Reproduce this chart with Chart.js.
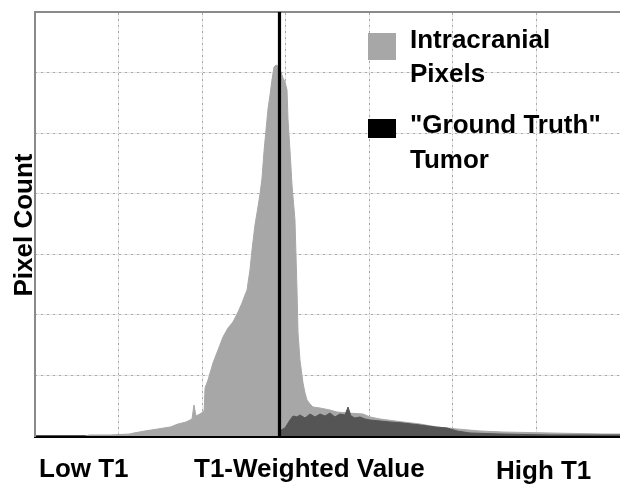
<!DOCTYPE html>
<html>
<head>
<meta charset="utf-8">
<script src="https://cdn.jsdelivr.net/npm/chart.js@4"></script>
<style>
  html, body { margin: 0; padding: 0; background: #ffffff; }
  #wrap { width: 620px; height: 485px; }
</style>
</head>
<body>
<div id="wrap"><canvas id="c" width="620" height="485"></canvas></div>
<script>
// ---- data (T1-weighted value in arbitrary units, pixel count in arbitrary units) ----
const intracranialT1 = [0,59,65,89,112,117,130,145,160,169,178.5,185.6,187.9,190.3,195,198.6,200,201,204.5,210.4,216.3,222.2,228.1,234,240,244.7,248.2,250.6,254.1,256.5,260,262.4,266,268.3,270.7,275.4,277.8,280.1,282.5,284.9,287.2,290.8,293.1,295.5,297.9,299.1,301.4,303.8,307.3,309.7,310.9,313.2,316.8,319.2,321.5,325.1,328.6,336.9,348.7,357,368.8,387.7,396,407.8,435,455.1,475.2,498.8,526,553.2,608.7,671.4,691.5];
const intracranialCount = [0,0,1.7,1.7,3.3,5.0,8.3,11.6,14.9,19.8,23.1,28.1,51.2,33.0,36.3,39.6,42.9,79.2,92.5,120.5,142,163.5,178.3,188.2,204.7,219.6,232.8,241,274.1,307.1,348.4,368.2,400,425,470,540,563,587.8,609.2,612.5,610.9,601,591.1,584.5,571.2,521.7,472.2,414.4,356.6,241,170.1,125.5,87.5,71,59.4,52.8,47.9,46.2,42.9,39.6,38,36.3,31.4,28.1,23.1,19.8,14.9,11.6,8.3,6.6,5.0,3.3,3.3];
const tumorT1 = [289,290.8,295.5,301.4,305.0,309.7,313.2,319.2,325.1,331.0,336.9,342.8,348.7,354.6,360.5,366.4,370.0,373.5,378.2,384.2,390.1,396.0,407.8,419.6,435.0,455.1,472.8,487.0,498.8,514.2,549.6,608.7,691.5];
const tumorCount = [0,9.9,13.2,26.4,33.0,31.4,34.7,29.7,36.3,31.4,36.3,33.0,38.0,31.4,36.3,34.7,47.9,33.0,29.7,31.4,28.1,26.4,24.8,23.1,21.5,18.2,14.9,13.2,8.3,5.0,3.3,1.7,1.7];
const markerT1 = 289;
const xRange = [0, 691.5];
const yRange = [0, 700];
const xStep = 100;
const yStep = 100;
const legendLabels = [["Intracranial", "Pixels"], ["\"Ground Truth\"", "Tumor"]];
const axisLabels = { low: "Low T1", title: "T1-Weighted Value", high: "High T1", y: "Pixel Count" };

const toXY = (xs, ys) => xs.map((x, i) => ({ x: x, y: ys[i] }));

const LIGHT = '#a7a7a7';
const DARK = '#555555';
const FONT = 'bold 26px "Liberation Sans", Arial, sans-serif';

const textPlugin = {
  id: 'textPlugin',
  afterDraw(chart) {
    const ctx = chart.ctx;
    const a = chart.chartArea;
    ctx.save();
    ctx.fillStyle = '#000';
    ctx.font = FONT;
    ctx.textBaseline = 'alphabetic';
    ctx.textAlign = 'left';
    // legend
    const lx = a.left + 333;
    ctx.fillStyle = LIGHT;
    ctx.fillRect(lx, a.top + 21, 28, 27);
    ctx.fillStyle = '#000';
    ctx.fillRect(lx, a.top + 107, 28, 19);
    ctx.fillText(legendLabels[0][0], lx + 42, a.top + 36);
    ctx.fillText(legendLabels[0][1], lx + 42, a.top + 70);
    ctx.fillText(legendLabels[1][0], lx + 42, a.top + 121);
    ctx.fillText(legendLabels[1][1], lx + 42, a.top + 156);
    // bottom labels
    const by = a.bottom + 41;
    ctx.fillText(axisLabels.low, a.left + 4, by);
    ctx.fillText(axisLabels.title, a.left + 159, by);
    ctx.fillText(axisLabels.high, a.left + 461, by + 2);
    // y title
    ctx.translate(32, (a.top + a.bottom) / 2 + 1);
    ctx.rotate(-Math.PI / 2);
    ctx.textAlign = 'center';
    ctx.fillText(axisLabels.y, 0, 0);
    ctx.restore();
  }
};

const hideEdgesX = (col) => (c) => (c.tick && (c.tick.value <= 0 || c.tick.value > 690)) ? 'rgba(0,0,0,0)' : col;
const hideEdgesY = (col) => (c) => (c.tick && (c.tick.value <= 0 || c.tick.value >= 700)) ? 'rgba(0,0,0,0)' : col;

new Chart(document.getElementById('c'), {
  type: 'line',
  data: {
    datasets: [
      {
        label: 'Marker',
        data: [{ x: markerT1, y: yRange[0] }, { x: markerT1, y: yRange[1] }],
        borderColor: '#000',
        borderWidth: 3.2,
        pointRadius: 0,
        fill: false,
        order: 0
      },
      {
        label: 'Ground Truth Tumor',
        data: toXY(tumorT1, tumorCount),
        borderColor: DARK,
        backgroundColor: DARK,
        borderWidth: 1,
        pointRadius: 0,
        fill: 'origin',
        tension: 0,
        order: 1
      },
      {
        label: 'Intracranial Pixels',
        data: toXY(intracranialT1, intracranialCount),
        borderColor: LIGHT,
        backgroundColor: LIGHT,
        borderWidth: 1,
        pointRadius: 0,
        fill: 'origin',
        tension: 0,
        order: 2
      }
    ]
  },
  options: {
    responsive: false,
    animation: false,
    devicePixelRatio: 1,
    layout: { padding: { left: 35, top: 12, right: 0, bottom: 49 } },
    plugins: { legend: { display: false }, tooltip: { enabled: false } },
    scales: {
      x: {
        type: 'linear', position: 'bottom',
        min: xRange[0], max: xRange[1],
        ticks: { display: false, stepSize: xStep },
        grid: { drawTicks: false, color: hideEdgesX('#e6e6e6'), lineWidth: 1 },
        border: { display: true, color: '#000', width: 3 }
      },
      x2: {
        type: 'linear', position: 'top',
        min: xRange[0], max: xRange[1],
        ticks: { display: false, stepSize: xStep },
        grid: { drawTicks: false, color: hideEdgesX('#a9a9a9'), lineWidth: 1 },
        border: { display: true, color: '#8a8a8a', width: 2, dash: [2, 4] }
      },
      y: {
        type: 'linear', position: 'left',
        min: yRange[0], max: yRange[1],
        ticks: { display: false, stepSize: yStep },
        grid: { drawTicks: false, color: hideEdgesY('#e6e6e6'), lineWidth: 1 },
        border: { display: true, color: '#8a8a8a', width: 2 }
      },
      y2: {
        type: 'linear', position: 'left',
        min: yRange[0], max: yRange[1],
        ticks: { display: false, stepSize: yStep },
        grid: { drawTicks: false, color: hideEdgesY('#a9a9a9'), lineWidth: 1 },
        border: { display: false, dash: [2, 4] }
      }
    }
  },
  plugins: [textPlugin]
});
</script>
</body>
</html>
